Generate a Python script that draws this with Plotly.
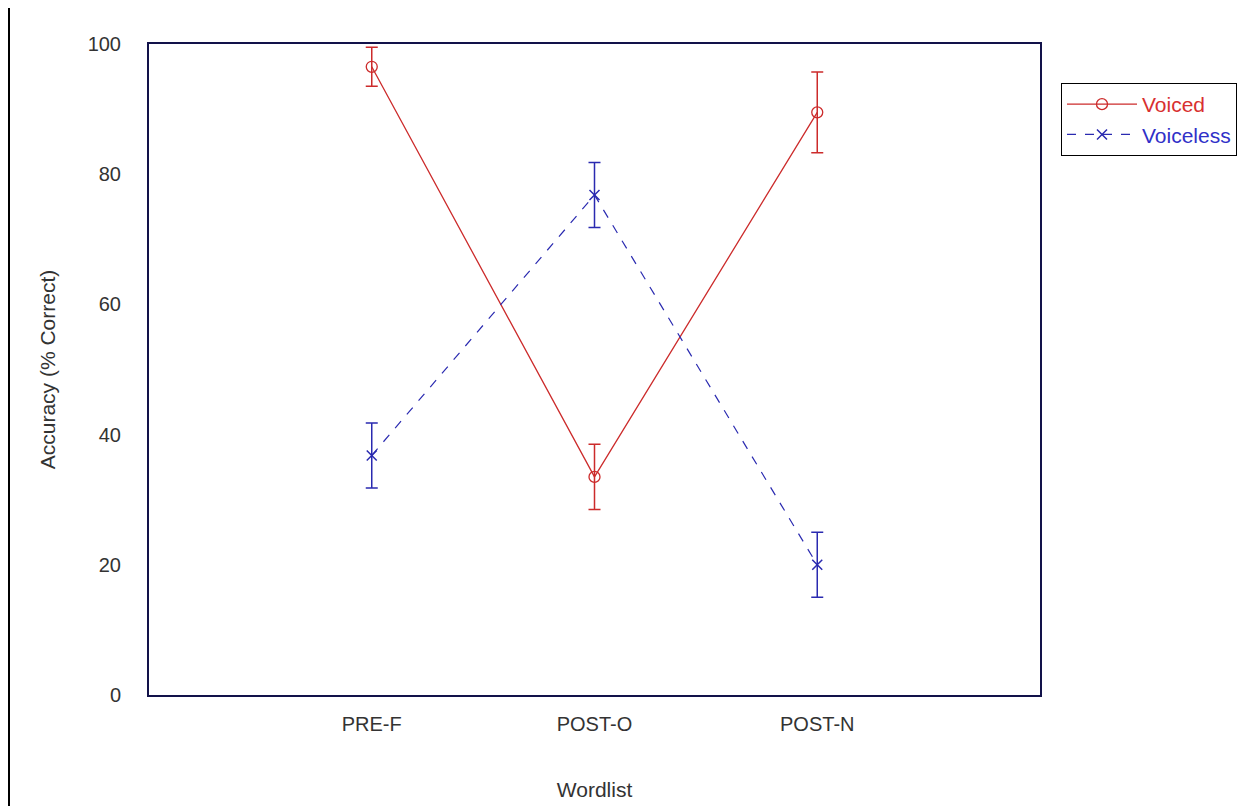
import plotly.graph_objects as go

categories = ["PRE-F", "POST-O", "POST-N"]
x_pos = [1, 2, 3]
voiced = [96.5, 33.5, 89.5]
voiced_err = [3, 5, 6.2]
voiceless = [36.8, 76.8, 20.0]
voiceless_err = [5, 5, 5]
y_ticks = [0, 20, 40, 60, 80, 100]

RED = "#cc2b2b"
BLUE = "#2a2ab0"

fig = go.Figure()
fig.add_trace(go.Scatter(
    x=x_pos, y=voiced, mode="lines+markers",
    name="<span style='color:#d83030'>Voiced</span>",
    line=dict(color=RED, width=1.3),
    marker=dict(symbol="circle-open", size=11, color=RED, line=dict(width=1.3)),
    error_y=dict(type="data", array=voiced_err, color=RED, thickness=1.5, width=6),
))
fig.add_trace(go.Scatter(
    x=x_pos, y=voiceless, mode="lines+markers",
    name="<span style='color:#3030c8'>Voiceless</span>",
    line=dict(color=BLUE, width=1.2, dash="dash"),
    marker=dict(symbol="x-thin-open", size=10, color=BLUE, line=dict(width=1.5, color=BLUE)),
    error_y=dict(type="data", array=voiceless_err, color=BLUE, thickness=1.5, width=6),
))

OFF = 8  # browser body margin
L, R, T, B = 149, 1040, 44, 695
W, H = 1257, 806
pw, ph = R - L, B - T

fig.update_layout(
    width=W - OFF, height=H - OFF,
    margin=dict(l=L - OFF, r=W - R, t=T - OFF, b=H - B),
    paper_bgcolor="white", plot_bgcolor="white",
    font=dict(family="Liberation Sans, Arial, sans-serif", size=20, color="#333333"),
    showlegend=True,
    legend=dict(
        x=(1061 - L) / pw, y=(B - 83) / ph, xanchor="left", yanchor="top",
        bordercolor="black", borderwidth=1, bgcolor="white",
        font=dict(size=21), tracegroupgap=0, itemwidth=70,
    ),
    xaxis=dict(
        range=[0, 4], tickmode="array", tickvals=x_pos, ticktext=categories,
        showgrid=False, zeroline=False, showline=True, linecolor="#12124a",
        linewidth=2, mirror=True, ticks="", ticklabelstandoff=10, automargin=False,
        title=dict(text="Wordlist", standoff=48, font=dict(size=21)),
    ),
    yaxis=dict(
        range=[0, 100], tickmode="array", tickvals=y_ticks,
        showgrid=False, zeroline=False, showline=True, linecolor="#12124a",
        linewidth=2, mirror=True, ticks="", ticklabelstandoff=22, automargin=False,
        title=dict(text="Accuracy (% Correct)", standoff=26, font=dict(size=21)),
    ),
)

# outer figure border
fig.add_shape(type="rect", xref="paper", yref="paper",
              x0=(9 - L) / pw, x1=(1255 - L) / pw,
              y0=(B - 812) / ph, y1=(B - 1) / ph,
              line=dict(color="black", width=2), layer="below")

fig.write_html("out.html")
